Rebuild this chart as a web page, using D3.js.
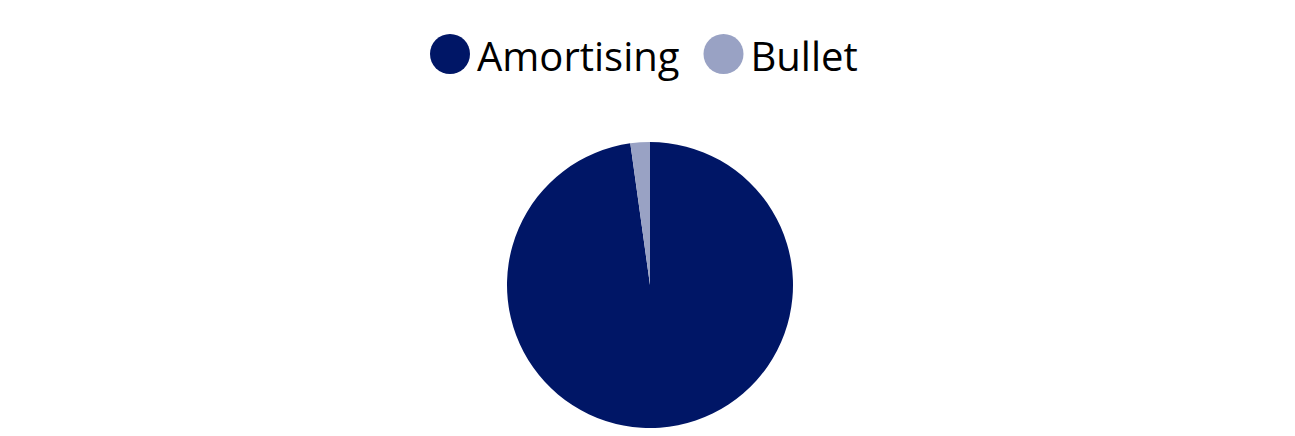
<!DOCTYPE html>
<html lang="en">
<head>
    <meta charset="UTF-8">
    <title>Amortising vs Bullet</title>
    <style>
        body { margin: 0; background: #fff; }
        svg { display: block; }
    </style>
</head>
<body>
    <div id="chart"></div>
    <script src="https://cdnjs.cloudflare.com/ajax/libs/d3/7.8.5/d3.min.js"></script>
    <script>
        // values (share of total, %)
        const categories = ['Amortising', 'Bullet'];
        const shares = [97.8, 2.2];
        const colours = ['#001666', '#99a2c4'];

        const width = 1295, height = 436;
        const cx = 650, cy = 285, radius = 143;

        const svg = d3.select('#chart')
            .append('svg')
            .attr('width', width)
            .attr('height', height);

        const colour = d3.scaleOrdinal().domain(categories).range(colours);

        const data = categories.map((c, i) => ({ name: c, value: shares[i] }));

        const pie = d3.pie().value(d => d.value).sort(null);
        const arc = d3.arc().innerRadius(0).outerRadius(radius);

        svg.append('g')
            .attr('transform', `translate(${cx},${cy})`)
            .selectAll('path')
            .data(pie(data))
            .join('path')
            .attr('d', arc)
            .attr('fill', d => colour(d.data.name));

        // legend row above the pie
        const legend = svg.append('g')
            .attr('font-family', '"Open Sans", "Noto Sans", sans-serif')
            .attr('font-size', 40);

        const items = legend.selectAll('g')
            .data(categories)
            .join('g');

        items.append('circle')
            .attr('r', 20)
            .attr('cy', 54)
            .attr('fill', d => colour(d));

        items.append('text')
            .attr('x', 27)
            .attr('y', 71)
            .attr('fill', '#000')
            .text(d => d);

        let x = 450;
        items.each(function () {
            const g = d3.select(this);
            const w = g.select('text').node().getComputedTextLength();
            g.attr('transform', `translate(${x},0)`);
            x += 27 + w + 44;
        });
    </script>
</body>
</html>
